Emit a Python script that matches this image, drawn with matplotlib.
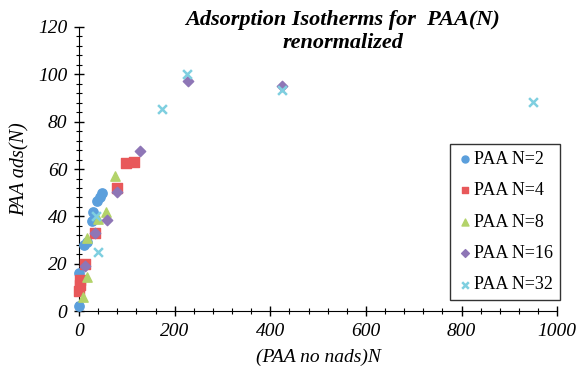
import matplotlib.pyplot as plt
from matplotlib.ticker import MultipleLocator

# PAA N=2 .. N=32
n2_x = [0, 1, 10, 16, 27, 30, 37, 44, 48]
n2_y = [2, 16, 28, 29, 38, 42, 46.5, 48, 50]
n4_x = [0, 2, 3, 12, 33, 79, 98, 114]
n4_y = [8.5, 11, 13, 20, 33, 52, 62.5, 63]
n8_x = [9, 17, 17, 40, 56, 75]
n8_y = [6, 14.5, 31, 39, 42, 57]
n16_x = [12, 33, 58, 79, 128, 227, 424]
n16_y = [19, 33, 38.5, 50.5, 67.5, 97, 95]
n32_x = [39, 35, 174, 225, 424, 950]
n32_y = [25, 40, 85.5, 100, 93.5, 88.3]

series = [
    ("PAA N=2", n2_x, n2_y, "o", "#5b9fdc"),
    ("PAA N=4", n4_x, n4_y, "s", "#e8585a"),
    ("PAA N=8", n8_x, n8_y, "^", "#b3d36a"),
    ("PAA N=16", n16_x, n16_y, "D", "#8e76b6"),
    ("PAA N=32", n32_x, n32_y, "x", "#7fcfe0"),
]

plt.rcParams['font.family'] = ['Liberation Serif', 'DejaVu Serif']

fig = plt.figure(figsize=(5.81, 3.74), dpi=100)
ax = fig.add_axes([0.136, 0.168, 0.823, 0.76])

for label, xs, ys, m, c in series:
    if m == "x":
        ax.scatter(xs, ys, marker=m, s=40, color=c, linewidths=1.8, label=label, zorder=3, clip_on=False)
    elif m == "D":
        ax.scatter(xs, ys, marker=m, s=28, color=c, label=label, zorder=3, clip_on=False)
    else:
        ax.scatter(xs, ys, marker=m, s=45, color=c, label=label, zorder=3, clip_on=False)

ax.set_xlim(0, 1000)
ax.set_ylim(0, 120)
ax.xaxis.set_major_locator(MultipleLocator(200))
ax.xaxis.set_minor_locator(MultipleLocator(40))
ax.yaxis.set_major_locator(MultipleLocator(20))
ax.yaxis.set_minor_locator(MultipleLocator(4))
ax.tick_params(which='major', direction='inout', length=7, width=1, labelsize=14, pad=5)
ax.tick_params(which='minor', direction='inout', length=4, width=0.8)
for t in ax.get_xticklabels() + ax.get_yticklabels():
    t.set_fontstyle('italic')

for s in ['top', 'right']:
    ax.spines[s].set_visible(False)

ax.set_xlabel('(PAA no nads)N', fontsize=14, fontstyle='italic', labelpad=6)
ax.set_ylabel('PAA ads(N)', fontsize=14.5, fontstyle='italic', labelpad=6)

fig.text(0.59, 0.916, 'Adsorption Isotherms for  PAA(N)\nrenormalized',
         ha='center', va='center', fontsize=16, fontweight='bold',
         fontstyle='italic', linespacing=1.15)

leg = ax.legend(loc='lower right', bbox_to_anchor=(1.005, 0.04), frameon=True,
                fancybox=False, edgecolor='black', fontsize=13,
                handletextpad=0.0, borderpad=0.35, labelspacing=0.8,
                handlelength=1.0, borderaxespad=0.0, markerscale=0.75)
leg.get_frame().set_linewidth(1.0)

fig.savefig('out.png', dpi=100)
